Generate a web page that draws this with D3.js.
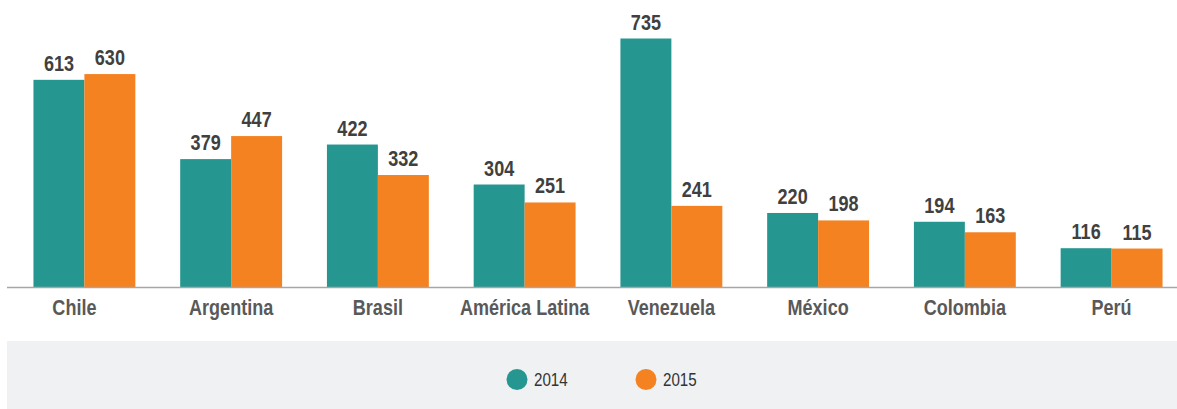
<!DOCTYPE html>
<html>
<head>
<meta charset="utf-8">
<script src="https://cdn.jsdelivr.net/npm/d3@7"></script>
<style>
  html, body { margin: 0; padding: 0; background: #fff; }
  svg { display: block; }
</style>
</head>
<body>
<svg id="chart" width="1177" height="409"></svg>
<script>
const categories = ["Chile", "Argentina", "Brasil", "América Latina", "Venezuela", "México", "Colombia", "Perú"];
const seriesNames = ["2014", "2015"];
const values2014 = [613, 379, 422, 304, 735, 220, 194, 116];
const values2015 = [630, 447, 332, 251, 241, 198, 163, 115];
const colors = ["#269690", "#f58220"];

const width = 1177, height = 409;
const baseY = 287.5;
const squeeze = 0.82; // no narrow font installed, so condense by hand
const font = "'Liberation Sans', Arial, sans-serif";

const svg = d3.select("#chart");

const x = d3.scaleBand()
    .domain(categories)
    .range([11, 1185])
    .paddingInner(0.3056)
    .paddingOuter(0.153);

const xSub = d3.scaleBand()
    .domain(seriesNames)
    .range([0, x.bandwidth()]);

const y = d3.scaleLinear()
    .domain([0, 735])
    .range([baseY, 38.5]);

const color = d3.scaleOrdinal().domain(seriesNames).range(colors);

const rows = categories.map((c, i) => ({
    cat: c,
    vals: [
        {key: "2014", v: values2014[i]},
        {key: "2015", v: values2015[i]}
    ]
}));

// bars
const groups = svg.append("g")
    .selectAll("g")
    .data(rows)
    .enter()
    .append("g")
    .attr("transform", d => `translate(${x(d.cat)},0)`);

groups.selectAll("rect")
    .data(d => d.vals)
    .enter()
    .append("rect")
    .attr("x", d => xSub(d.key))
    .attr("y", d => y(d.v))
    .attr("width", xSub.bandwidth())
    .attr("height", d => baseY - y(d.v))
    .attr("fill", d => color(d.key));

groups.selectAll("text")
    .data(d => d.vals)
    .enter()
    .append("text")
    .attr("transform", d => `translate(${xSub(d.key) + xSub.bandwidth() / 2},${y(d.v) - 9}) scale(${squeeze},1)`)
    .attr("text-anchor", "middle")
    .attr("font-family", font)
    .attr("font-weight", "bold")
    .attr("font-size", 22)
    .attr("fill", "#404040")
    .text(d => d.v);

// baseline axis
const axis = svg.append("g")
    .attr("transform", `translate(0,${baseY})`)
    .call(d3.axisBottom(x).tickSize(0).tickPadding(11));

axis.select(".domain").remove();
axis.append("line")
    .attr("x1", 7).attr("x2", width)
    .attr("stroke", "#a6a6a6")
    .attr("stroke-width", 1.5);
axis.selectAll(".tick text")
    .attr("transform", d => `translate(${d === "Chile" ? -10 : 0},0) scale(${squeeze},1)`)
    .attr("font-family", font)
    .attr("font-weight", "bold")
    .attr("font-size", 22)
    .attr("fill", "#595959")
    .attr("dy", "0.75em");

// legend
svg.append("rect")
    .attr("x", 7).attr("y", 341)
    .attr("width", width - 7).attr("height", 68)
    .attr("fill", "#f0f1f3");

const legendX = d3.scalePoint().domain(seriesNames).range([517, 646]);
const legend = svg.append("g")
    .selectAll("g")
    .data(seriesNames)
    .enter()
    .append("g")
    .attr("transform", d => `translate(${legendX(d)},379.5)`);

legend.append("circle")
    .attr("r", 10.5)
    .attr("fill", d => color(d));

legend.append("text")
    .attr("transform", `translate(17,6.5) scale(${squeeze},1)`)
    .attr("font-family", font)
    .attr("font-size", 18.5)
    .attr("fill", "#333333")
    .text(d => d);
</script>
</body>
</html>
